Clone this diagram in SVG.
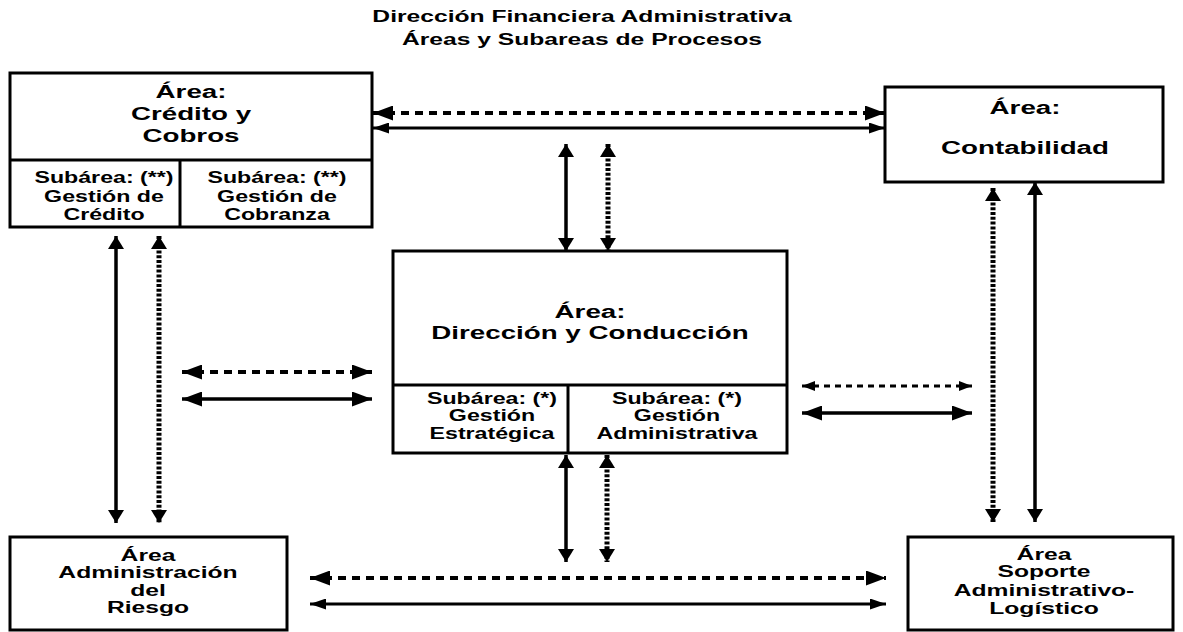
<svg xmlns="http://www.w3.org/2000/svg" width="1183" height="632" viewBox="0 0 1183 632">
<style>
text{font-family:"Liberation Sans",Arial,sans-serif;font-weight:bold;fill:#000;text-anchor:middle}
.t{font-size:17px}
.a{font-size:19px}
.s{font-size:16px}
.b{font-size:17px}
.box{fill:#fff;stroke:#000;stroke-width:3}
.div{stroke:#000;stroke-width:3;fill:none}
.sol{stroke:#000;stroke-width:3.5;fill:none}
.sol3{stroke:#000;stroke-width:3;fill:none}
.dh{stroke:#000;stroke-width:4;fill:none;stroke-dasharray:8 6}
.dm{stroke:#000;stroke-width:3;fill:none;stroke-dasharray:6 5}
.dv{stroke:#000;stroke-width:5;fill:none;stroke-dasharray:3 1.8}
</style>
<defs>
<marker id="big" markerUnits="userSpaceOnUse" markerWidth="20" markerHeight="15" refX="20" refY="7.5" orient="auto-start-reverse"><path d="M0,0 L20,7.5 L0,15 Z" fill="#000"/></marker>
<marker id="mid" markerUnits="userSpaceOnUse" markerWidth="16" markerHeight="11" refX="16" refY="5.5" orient="auto-start-reverse"><path d="M0,0 L16,5.5 L0,11 Z" fill="#000"/></marker>
<marker id="sm" markerUnits="userSpaceOnUse" markerWidth="13" markerHeight="10" refX="13" refY="5" orient="auto-start-reverse"><path d="M0,0 L13,5 L0,10 Z" fill="#000"/></marker>
<marker id="vh" markerUnits="userSpaceOnUse" markerWidth="13" markerHeight="16" refX="13" refY="8" orient="auto-start-reverse"><path d="M0,0 L13,8 L0,16 Z" fill="#000"/></marker>
</defs>

<g id="title">
<text class="t" transform="translate(582,22) scale(1.45,1)">Dirección Financiera Administrativa</text>
<text class="t" transform="translate(582,45) scale(1.45,1)">Áreas y Subareas de Procesos</text>
</g>

<g id="credito">
<rect class="box" x="10" y="73" width="362" height="154"/>
<line class="div" x1="10" y1="160" x2="372" y2="160"/>
<line class="div" x1="180" y1="160" x2="180" y2="227"/>
<text class="a" transform="translate(191,98) scale(1.46,1)">Área:</text>
<text class="a" transform="translate(191,120) scale(1.46,1)">Crédito y</text>
<text class="a" transform="translate(191,142) scale(1.46,1)">Cobros</text>
<text class="s" transform="translate(104,183) scale(1.45,1)">Subárea: (**)</text>
<text class="s" transform="translate(104,202) scale(1.45,1)">Gestión de</text>
<text class="s" transform="translate(104,220) scale(1.45,1)">Crédito</text>
<text class="s" transform="translate(277,183) scale(1.45,1)">Subárea: (**)</text>
<text class="s" transform="translate(277,202) scale(1.45,1)">Gestión  de</text>
<text class="s" transform="translate(277,220) scale(1.45,1)">Cobranza</text>
</g>

<g id="contabilidad">
<rect class="box" x="885" y="87" width="278" height="95"/>
<text class="a" transform="translate(1025,114) scale(1.46,1)">Área:</text>
<text class="a" transform="translate(1025,154) scale(1.46,1)">Contabilidad</text>
</g>

<g id="direccion">
<rect class="box" x="393" y="251" width="394" height="202"/>
<line class="div" x1="393" y1="385" x2="787" y2="385"/>
<line class="div" x1="568" y1="385" x2="568" y2="453"/>
<text class="a" transform="translate(590,318) scale(1.46,1)">Área:</text>
<text class="a" transform="translate(590,339) scale(1.46,1)">Dirección y Conducción</text>
<text class="s" transform="translate(492,404) scale(1.45,1)">Subárea: (*)</text>
<text class="s" transform="translate(492,421) scale(1.45,1)">Gestión</text>
<text class="s" transform="translate(492,439) scale(1.45,1)">Estratégica</text>
<text class="s" transform="translate(677,404) scale(1.45,1)">Subárea: (*)</text>
<text class="s" transform="translate(677,421) scale(1.45,1)">Gestión</text>
<text class="s" transform="translate(677,439) scale(1.45,1)">Administrativa</text>
</g>

<g id="riesgo">
<rect class="box" x="10" y="537" width="277" height="93"/>
<text class="b" transform="translate(148,561) scale(1.45,1)">Área</text>
<text class="b" transform="translate(148,578) scale(1.45,1)">Administración</text>
<text class="b" transform="translate(148,596) scale(1.45,1)">del</text>
<text class="b" transform="translate(148,613) scale(1.45,1)">Riesgo</text>
</g>

<g id="soporte">
<rect class="box" x="908" y="537" width="265" height="93"/>
<text class="b" transform="translate(1044,560) scale(1.45,1)">Área</text>
<text class="b" transform="translate(1044,577) scale(1.45,1)">Soporte</text>
<text class="b" transform="translate(1044,596) scale(1.45,1)">Administrativo-</text>
<text class="b" transform="translate(1044,614) scale(1.45,1)">Logístico</text>
</g>

<g id="connectors">
<line class="dh" x1="373" y1="113" x2="885" y2="113" marker-start="url(#big)" marker-end="url(#big)"/>
<line class="sol3" x1="373" y1="128" x2="885" y2="128" marker-start="url(#mid)" marker-end="url(#mid)"/>
<line class="sol" x1="566" y1="144" x2="566" y2="251" marker-start="url(#vh)" marker-end="url(#vh)"/>
<line class="dv" x1="608" y1="144" x2="608" y2="251" marker-start="url(#vh)" marker-end="url(#vh)"/>
<line class="sol" x1="116" y1="236" x2="116" y2="523" marker-start="url(#vh)" marker-end="url(#vh)"/>
<line class="dv" x1="159" y1="236" x2="159" y2="523" marker-start="url(#vh)" marker-end="url(#vh)"/>
<line class="dh" x1="182" y1="372" x2="372" y2="372" marker-start="url(#big)" marker-end="url(#big)"/>
<line class="sol" x1="182" y1="399" x2="372" y2="399" marker-start="url(#big)" marker-end="url(#big)"/>
<line class="dm" x1="802" y1="386" x2="972" y2="386" marker-start="url(#sm)" marker-end="url(#sm)"/>
<line class="sol" x1="802" y1="413" x2="972" y2="413" marker-start="url(#big)" marker-end="url(#big)"/>
<line class="dv" x1="993" y1="188" x2="993" y2="522" marker-start="url(#vh)" marker-end="url(#vh)"/>
<line class="sol" x1="1035" y1="182" x2="1035" y2="522" marker-start="url(#vh)" marker-end="url(#vh)"/>
<line class="sol" x1="566" y1="455" x2="566" y2="562" marker-start="url(#vh)" marker-end="url(#vh)"/>
<line class="dv" x1="607" y1="455" x2="607" y2="562" marker-start="url(#vh)" marker-end="url(#vh)"/>
<line class="dh" x1="310" y1="578" x2="886" y2="578" marker-start="url(#big)" marker-end="url(#big)"/>
<line class="sol3" x1="310" y1="604" x2="886" y2="604" marker-start="url(#mid)" marker-end="url(#mid)"/>
</g>
</svg>
